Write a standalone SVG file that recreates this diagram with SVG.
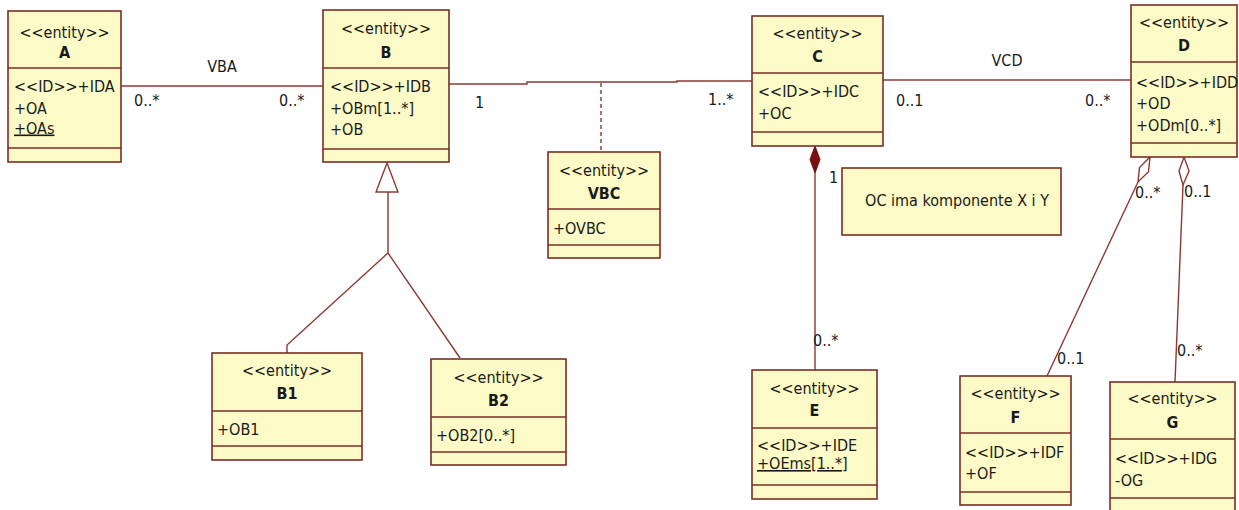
<svg xmlns="http://www.w3.org/2000/svg" width="1239" height="510" viewBox="0 0 1239 510">
<style>
.bx{fill:#FCFAC6;stroke:#7b2d26;stroke-width:1.6}
.dv{stroke:#7b2d26;stroke-width:1.6}
text{font-family:"DejaVu Sans Condensed","DejaVu Sans",sans-serif;font-size:16px;fill:#1a1a1a}
.c{text-anchor:middle}
.b{font-weight:bold}
.u{text-decoration:underline}
.ln{stroke:#8b3a33;stroke-width:1.4;fill:none}
</style>
<rect width="1239" height="510" fill="#ffffff"/>
<g id="connectors">
<line class="ln" x1="121" y1="86" x2="323" y2="86"/>
<polyline class="ln" points="449,84 527,84 527,82 677,82 677,81 752,81"/>
<line class="ln" x1="601" y1="83" x2="601" y2="152" stroke-dasharray="4,3"/>
<polyline class="ln" points="287,353 287,345 388,253 388,192"/>
<line class="ln" x1="388" y1="253" x2="460" y2="358"/>
<polygon points="387,163 376,192 398,192" fill="#ffffff" stroke="#8b3a33" stroke-width="1.4"/>
<line class="ln" x1="815" y1="173" x2="815" y2="370"/>
<polygon points="815,146 810,159.5 815,173 820,159.5" fill="#7a1010" stroke="#7a1010" stroke-width="1"/>
<line class="ln" x1="883" y1="80" x2="1131" y2="80"/>
<line class="ln" x1="1138" y1="182" x2="1047" y2="376"/>
<polygon points="1150,157 1148.5,171.8 1138,182 1139.5,167.6" fill="#ffffff" stroke="#8b3a33" stroke-width="1.4"/>
<line class="ln" x1="1183" y1="185" x2="1175" y2="382"/>
<polygon points="1184,157 1189,171 1183,185 1179,171" fill="#ffffff" stroke="#8b3a33" stroke-width="1.4"/>
<text x="222" y="72" class="c">VBA</text>
<text x="134" y="106">0..*</text>
<text x="279" y="106">0..*</text>
<text x="475" y="108">1</text>
<text x="708" y="105">1..*</text>
<text x="1007" y="66" class="c">VCD</text>
<text x="896" y="106">0..1</text>
<text x="1085" y="106">0..*</text>
<text x="829" y="183">1</text>
<text x="813" y="346">0..*</text>
<text x="1135" y="198">0..*</text>
<text x="1184" y="197">0..1</text>
<text x="1057" y="364">0..1</text>
<text x="1177" y="356">0..*</text>
</g>
<g id="A">
<rect class="bx" x="8" y="11" width="113" height="151"/>
<line class="dv" x1="8" y1="68" x2="121" y2="68"/>
<line class="dv" x1="8" y1="148" x2="121" y2="148"/>
<text x="64.5" y="37.5" class="c">&lt;&lt;entity&gt;&gt;</text>
<text x="64.5" y="58" class="c b">A</text>
<text x="14" y="92">&lt;&lt;ID&gt;&gt;+IDA</text>
<text x="14" y="113.5">+OA</text>
<text x="14" y="133.5" class="u">+OAs</text>
</g>
<g id="B">
<rect class="bx" x="323" y="10" width="126" height="152"/>
<line class="dv" x1="323" y1="68" x2="449" y2="68"/>
<line class="dv" x1="323" y1="149" x2="449" y2="149"/>
<text x="386" y="33.5" class="c">&lt;&lt;entity&gt;&gt;</text>
<text x="386" y="57.5" class="c b">B</text>
<text x="330" y="92">&lt;&lt;ID&gt;&gt;+IDB</text>
<text x="330" y="113.5">+OBm[1..*]</text>
<text x="330" y="134.5">+OB</text>
</g>
<g id="C">
<rect class="bx" x="752" y="16" width="131" height="130"/>
<line class="dv" x1="752" y1="73" x2="883" y2="73"/>
<line class="dv" x1="752" y1="132" x2="883" y2="132"/>
<text x="817.5" y="38.5" class="c">&lt;&lt;entity&gt;&gt;</text>
<text x="817.5" y="62" class="c b">C</text>
<text x="758" y="97">&lt;&lt;ID&gt;&gt;+IDC</text>
<text x="758" y="119">+OC</text>
</g>
<g id="D">
<rect class="bx" x="1131" y="5" width="106" height="152"/>
<line class="dv" x1="1131" y1="62" x2="1237" y2="62"/>
<line class="dv" x1="1131" y1="143" x2="1237" y2="143"/>
<text x="1184" y="27.5" class="c">&lt;&lt;entity&gt;&gt;</text>
<text x="1184" y="51" class="c b">D</text>
<text x="1136" y="88">&lt;&lt;ID&gt;&gt;+IDD</text>
<text x="1136" y="109">+OD</text>
<text x="1136" y="131">+ODm[0..*]</text>
</g>
<g id="VBC">
<rect class="bx" x="548" y="152" width="112" height="106"/>
<line class="dv" x1="548" y1="209" x2="660" y2="209"/>
<line class="dv" x1="548" y1="245" x2="660" y2="245"/>
<text x="604" y="175.5" class="c">&lt;&lt;entity&gt;&gt;</text>
<text x="604" y="199" class="c b">VBC</text>
<text x="553" y="234">+OVBC</text>
</g>
<g id="B1">
<rect class="bx" x="212" y="353" width="150" height="107"/>
<line class="dv" x1="212" y1="411" x2="362" y2="411"/>
<line class="dv" x1="212" y1="446" x2="362" y2="446"/>
<text x="287" y="375.5" class="c">&lt;&lt;entity&gt;&gt;</text>
<text x="287" y="399" class="c b">B1</text>
<text x="217" y="435">+OB1</text>
</g>
<g id="B2">
<rect class="bx" x="431" y="359" width="135" height="106"/>
<line class="dv" x1="431" y1="417" x2="566" y2="417"/>
<line class="dv" x1="431" y1="452" x2="566" y2="452"/>
<text x="498.5" y="382.5" class="c">&lt;&lt;entity&gt;&gt;</text>
<text x="498.5" y="406" class="c b">B2</text>
<text x="436" y="441">+OB2[0..*]</text>
</g>
<g id="E">
<rect class="bx" x="752" y="370" width="125" height="129"/>
<line class="dv" x1="752" y1="428" x2="877" y2="428"/>
<line class="dv" x1="752" y1="485" x2="877" y2="485"/>
<text x="814.5" y="393.5" class="c">&lt;&lt;entity&gt;&gt;</text>
<text x="814.5" y="416" class="c b">E</text>
<text x="757" y="451">&lt;&lt;ID&gt;&gt;+IDE</text>
<text x="757" y="469" class="u">+OEms[1..*]</text>
</g>
<g id="F">
<rect class="bx" x="960" y="376" width="111" height="129"/>
<line class="dv" x1="960" y1="433" x2="1071" y2="433"/>
<line class="dv" x1="960" y1="492" x2="1071" y2="492"/>
<text x="1015.5" y="398.5" class="c">&lt;&lt;entity&gt;&gt;</text>
<text x="1015.5" y="423" class="c b">F</text>
<text x="965" y="458">&lt;&lt;ID&gt;&gt;+IDF</text>
<text x="965" y="479">+OF</text>
</g>
<g id="G">
<rect class="bx" x="1110" y="382" width="125" height="140"/>
<line class="dv" x1="1110" y1="439" x2="1235" y2="439"/>
<line class="dv" x1="1110" y1="498" x2="1235" y2="498"/>
<text x="1172.5" y="403.5" class="c">&lt;&lt;entity&gt;&gt;</text>
<text x="1172.5" y="428" class="c b">G</text>
<text x="1115" y="464">&lt;&lt;ID&gt;&gt;+IDG</text>
<text x="1115" y="486">-OG</text>
</g>
<g id="note">
<rect class="bx" x="842" y="168" width="219" height="67"/>
<text x="957" y="206" class="c">OC ima komponente X i Y</text>
</g>
</svg>
